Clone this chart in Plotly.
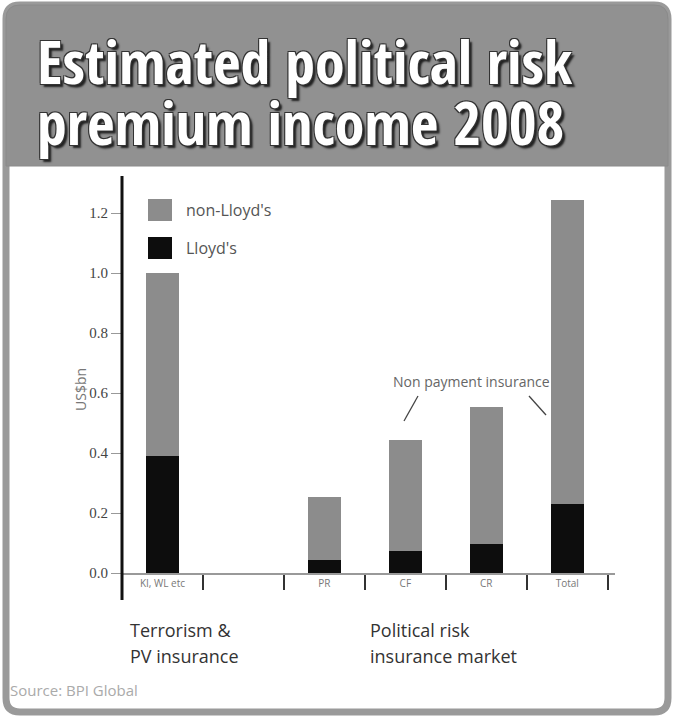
import plotly.graph_objects as go

# ---- data ----
categories = ["KI, WL etc", " ", "PR", "CF", "CR", "Total"]
lloyds = [0.39, None, 0.042, 0.074, 0.097, 0.23]
non_lloyds = [0.61, None, 0.21, 0.37, 0.458, 1.015]
series_names = ["non-Lloyd's", "Lloyd's"]
y_ticks = [0.0, 0.2, 0.4, 0.6, 0.8, 1.0, 1.2]
y_tick_text = ["0.0", "0.2", "0.4", "0.6", "0.8", "1.0", "1.2"]
title_lines = ["Estimated political risk", "premium income 2008"]
group_left = ["Terrorism &", "PV insurance"]
group_right = ["Political risk", "insurance market"]
note_text = "Non payment insurance"
source_text = "Source: BPI Global"
y_title = "US$bn"

W, H = 673, 720
L, R, T, B = 122, 615, 173, 573
PW, PH = R - L, B - T


def px(x):
    return (x - L) / PW


def py(y):
    return (B - y) / PH


GRAY = "#8c8c8c"
BLACK = "#0d0d0d"

fig = go.Figure()
fig.add_bar(x=categories, y=lloyds, name=series_names[1], marker=dict(color=BLACK, line_width=0), width=0.41,
            showlegend=False)
fig.add_bar(x=categories, y=non_lloyds, name=series_names[0], marker=dict(color=GRAY, line_width=0), width=0.41,
            showlegend=False)

shapes = []
# card frame
fx0, fx1, fy0, fy1, r = 6, 668, 5, 712, 14
frame_path = (f"M {px(fx0)},{py(fy0 + r)} L {px(fx0)},{py(fy1 - r)} Q {px(fx0)},{py(fy1)} {px(fx0 + r)},{py(fy1)} "
              f"L {px(fx1 - r)},{py(fy1)} Q {px(fx1)},{py(fy1)} {px(fx1)},{py(fy1 - r)} "
              f"L {px(fx1)},{py(fy0 + r)} Q {px(fx1)},{py(fy0)} {px(fx1 - r)},{py(fy0)} "
              f"L {px(fx0 + r)},{py(fy0)} Q {px(fx0)},{py(fy0)} {px(fx0)},{py(fy0 + r)} Z")
shapes.append(dict(type="path", xref="paper", yref="paper", path=frame_path, line=dict(color="#9a9a9a", width=7),
                   fillcolor="rgba(0,0,0,0)", layer="below"))
# header band
hx0, hx1, hy0, hy1 = 6, 668, 5, 166
head_path = (f"M {px(hx0)},{py(hy1)} L {px(hx0)},{py(hy0 + r)} Q {px(hx0)},{py(hy0)} {px(hx0 + r)},{py(hy0)} "
             f"L {px(hx1 - r)},{py(hy0)} Q {px(hx1)},{py(hy0)} {px(hx1)},{py(hy0 + r)} L {px(hx1)},{py(hy1)} Z")
shapes.append(dict(type="path", xref="paper", yref="paper", path=head_path, line=dict(color="#8a8a8a", width=1),
                   fillcolor="#919191", layer="below"))
# y axis line (extends below zero like the reference)
shapes.append(dict(type="line", xref="paper", yref="paper", x0=0, x1=0, y0=py(600), y1=py(176),
                   line=dict(color="#111", width=3)))
# legend boxes
shapes.append(dict(type="rect", xref="paper", yref="paper", x0=px(148), x1=px(172), y0=py(221), y1=py(199),
                   fillcolor=GRAY, line_width=0))
shapes.append(dict(type="rect", xref="paper", yref="paper", x0=px(148), x1=px(172), y0=py(259), y1=py(237),
                   fillcolor=BLACK, line_width=0))
# leader lines for note
shapes.append(dict(type="line", xref="paper", yref="paper", x0=px(418), y0=py(396), x1=px(404), y1=py(421),
                   line=dict(color="#444", width=1.3)))
shapes.append(dict(type="line", xref="paper", yref="paper", x0=px(529), y0=py(396), x1=px(546), y1=py(415),
                   line=dict(color="#444", width=1.3)))

ann = []
title_font = dict(family="Open Sans Condensed", size=60, weight=700, color="white",
                  shadow="1px 1px 0 #333, -1px -1px 0 #333, 1px -1px 0 #333, -1px 1px 0 #333, 3px 3px 2px #222")
ann.append(dict(text=title_lines[0], x=px(35), y=py(61), xref="paper", yref="paper", xanchor="left",
                yanchor="middle", showarrow=False, font=title_font))
ann.append(dict(text=title_lines[1], x=px(35), y=py(122), xref="paper", yref="paper", xanchor="left",
                yanchor="middle", showarrow=False, font=title_font))
# legend text
leg_font = dict(family="Open Sans", size=16, color="#555")
ann.append(dict(text=series_names[0], x=px(184), y=py(210), xref="paper", yref="paper", xanchor="left",
                yanchor="middle", showarrow=False, font=leg_font))
ann.append(dict(text=series_names[1], x=px(184), y=py(248), xref="paper", yref="paper", xanchor="left",
                yanchor="middle", showarrow=False, font=leg_font))
# y title
ann.append(dict(text=y_title, x=px(80), y=py(390), xref="paper", yref="paper", textangle=-90, showarrow=False,
                xanchor="center", yanchor="middle", font=dict(family="Open Sans", size=14, color="#777")))
# note
ann.append(dict(text=note_text, x=px(471), y=py(381), xref="paper", yref="paper", showarrow=False,
                xanchor="center", yanchor="middle", font=dict(family="Open Sans", size=14, color="#666")))
# group labels
grp_font = dict(family="Open Sans", size=18, color="#333")
for i, (tl, tr) in enumerate(zip(group_left, group_right)):
    yy = py(630 + 26 * i)
    ann.append(dict(text=tl, x=px(128), y=yy, xref="paper", yref="paper", xanchor="left",
                    yanchor="middle", showarrow=False, font=grp_font))
    ann.append(dict(text=tr, x=px(368), y=yy, xref="paper", yref="paper", xanchor="left",
                    yanchor="middle", showarrow=False, font=grp_font))
# source
ann.append(dict(text=source_text, x=px(8), y=py(690), xref="paper", yref="paper", xanchor="left",
                yanchor="middle", showarrow=False, font=dict(family="Open Sans", size=15, color="#aaa")))

fig.update_layout(
    width=W, height=H, margin=dict(l=L, r=W - R, t=T, b=H - B, pad=0),
    barmode="stack", bargap=0.5,
    paper_bgcolor="white", plot_bgcolor="white",
    shapes=shapes, annotations=ann,
    xaxis=dict(type="category", range=[-0.5, 5.59], tickson="boundaries", ticks="outside", ticklen=15,
               tickwidth=1.5, tickcolor="#333", showline=True, linecolor="#999", linewidth=1.5,
               showgrid=False, zeroline=False,
               tickfont=dict(family="Open Sans", size=10, color="#777")),
    yaxis=dict(range=[0, PH / 300], tickvals=y_ticks, ticktext=y_tick_text, ticks="outside", ticklen=10,
               tickwidth=1.2, tickcolor="#999", showline=False, showgrid=False, zeroline=False,
               tickfont=dict(family="Liberation Serif", size=15, color="#444")),
)
fig.write_html("out.html")
